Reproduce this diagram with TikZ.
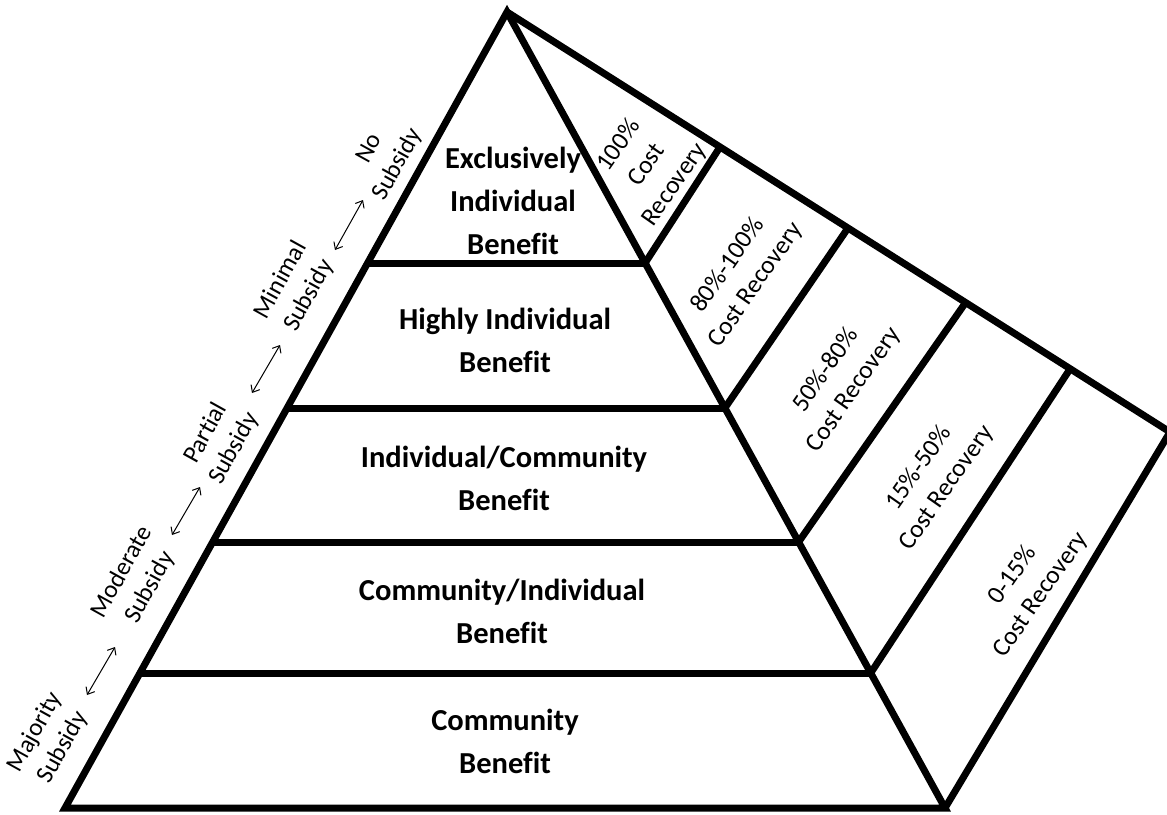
\documentclass[tikz,border=0pt]{standalone}
\usepackage{fontspec}
\setmainfont{Carlito}[Ligatures=NoCommon]
\usetikzlibrary{arrows.meta}
\begin{document}
\begin{tikzpicture}[x=1pt,y=-1pt,
  edge/.style={line width=7pt, line join=miter},
  tier/.style={font=\fontsize{30.5}{43}\selectfont\bfseries, align=center, inner sep=0pt},
  side/.style={font=\fontsize{25.5}{34}\selectfont, align=center, inner sep=0pt, rotate=55},
  lside/.style={font=\fontsize{25}{32}\selectfont, align=center, inner sep=0pt, rotate=61},
  dbl/.style={{Straight Barb[length=6pt,width=10pt]}-{Straight Barb[length=6pt,width=10pt]}, line width=1pt}
]
\useasboundingbox (0,0) rectangle (1167,814);
% main points
\coordinate (A) at (507,12);
\coordinate (BL) at (65,808);
\coordinate (BR) at (945,808);
\coordinate (C) at (1170,432);
% tier points
\coordinate (L1) at (367.6,263);
\coordinate (R1) at (645.1,263);
\coordinate (L2) at (287.1,408);
\coordinate (R2) at (724.9,408);
\coordinate (L3) at (212.7,542);
\coordinate (R3) at (798.6,542);
\coordinate (L4) at (140.0,673);
\coordinate (R4) at (870.7,673);
% divider tops
\coordinate (D1) at (720,147);
\coordinate (D2) at (848,228);
\coordinate (D3) at (966,302);
\coordinate (D4) at (1070,369);
% outlines
\draw[edge] (BL) -- (A) -- (BR) -- cycle;
\draw[edge] (A) -- (C) -- (BR);
\foreach \i in {1,2,3,4} {\draw[edge] (L\i) -- (R\i); \draw[edge] (R\i) -- (D\i);}
% tier labels
\node[tier] (t1) at (513,201) {Exclusively\\Individual\\Benefit};
\node[tier] (t2) at (505,340) {Highly Individual\\Benefit};
\node[tier] (t3) at (504,478) {Individual/Community\\Benefit};
\node[tier] (t4) at (502,611) {Community/Individual\\Benefit};
\node[tier] (t5) at (505,741) {Community\\Benefit};
% cost recovery labels
\node[side] (c1) at (647,165) {100\%\\Cost\\Recovery};
\node[side] (c2) at (742,275) {80\%-100\%\\Cost Recovery};
\node[side] (c3) at (840,380) {50\%-80\%\\Cost Recovery};
\node[side] (c4) at (933,478) {15\%-50\%\\Cost Recovery};
\node[side] (c5) at (1027,585) {0-15\%\\Cost Recovery};
% subsidy labels
\node[lside] (s1) at (384,157) {No\\Subsidy};
\node[lside] (s2) at (295,288) {Minimal\\Subsidy};
\node[lside] (s3) at (220,441) {Partial\\Subsidy};
\node[lside] (s4) at (136,580) {Moderate\\Subsidy};
\node[lside] (s5) at (49,740) {Majority\\Subsidy};
% arrows
\coordinate (a1s) at (335,250); \coordinate (a1e) at (363,200);
\coordinate (a2s) at (252,393); \coordinate (a2e) at (280,345);
\coordinate (a3s) at (172,535); \coordinate (a3e) at (200,487);
\coordinate (a4s) at (87,695);  \coordinate (a4e) at (115,647);
\foreach \i in {1,2,3,4} {\draw[dbl] (a\i s) -- (a\i e);}
\end{tikzpicture}
\end{document}
